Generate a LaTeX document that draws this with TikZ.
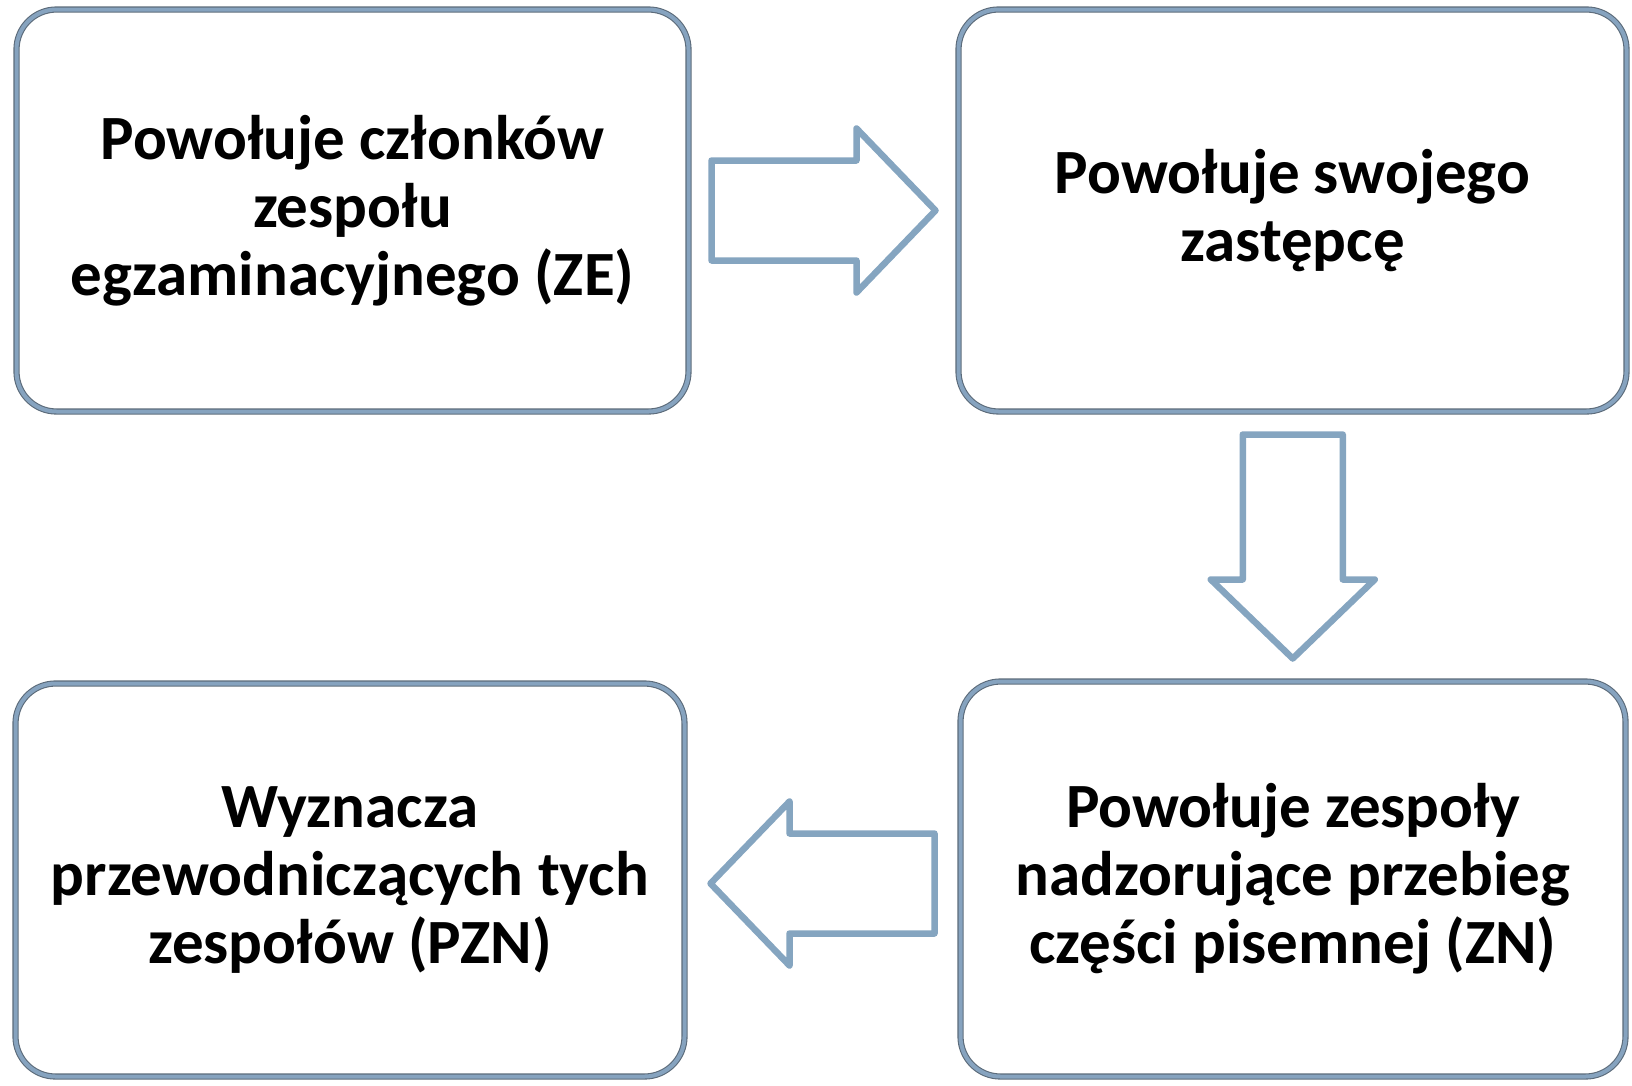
\documentclass[tikz,border=0pt]{standalone}
\usepackage{fontspec}
\setmainfont{Carlito}
\usetikzlibrary{shadows,calc}
\definecolor{boxblue}{HTML}{86A3BF}
\definecolor{boxedge}{HTML}{5C6B7A}
\definecolor{arrowblue}{HTML}{85A5C0}
\begin{document}
\begin{tikzpicture}[x=1pt,y=-1pt,
  stepbox/.style={rectangle, draw=boxedge, line width=1.1pt, double=boxblue,
    double distance=4pt, rounded corners=40pt, align=center, inner sep=0pt,
    font=\fontsize{63}{68}\selectfont\bfseries},
  arrowline/.style={draw=arrowblue, fill=white, line width=6.5pt, line join=round,
    drop shadow={shadow xshift=1.5pt, shadow yshift=-2pt, opacity=0.18, fill=black}},
  blockarr/.pic={\path[arrowline] (-112,-50) -- (33,-50) -- (33,-82) -- (112,0)
    -- (33,82) -- (33,50) -- (-112,50) -- cycle;}]
\useasboundingbox (0,0) rectangle (1632,1085);
\node[stepbox, minimum width=672pt, minimum height=402pt] (b1) at (352.5,210.5)
  {Powołuje członków\\zespołu\\egzaminacyjnego (ZE)};
\node[stepbox, minimum width=668pt, minimum height=402pt] (b2) at (1292.5,210.5)
  {Powołuje swojego\\zastępcę};
\node[stepbox, minimum width=669pt, minimum height=393pt] (b3) at (350,880)
  {Wyznacza\\przewodniczących tych\\zespołów (PZN)};
\node[stepbox, minimum width=665pt, minimum height=395pt] (b4) at (1293,879)
  {Powołuje zespoły\\nadzorujące przebieg\\części pisemnej (ZN)};
\coordinate (m1) at ($(b1.east)!.5!(b2.west)$);
\coordinate (m2) at ($(b2.south)!.5!(b4.north)$);
\coordinate (m3) at ($(b4.west)!.5!(b3.east)+(0,4)$);
\pic at (m1) {blockarr};
\pic[rotate=-90] at (m2) {blockarr};
\pic[rotate=180] at (m3) {blockarr};
\end{tikzpicture}
\end{document}
